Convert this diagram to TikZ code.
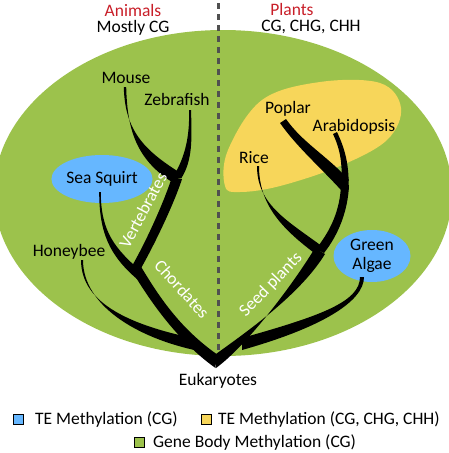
\documentclass[tikz,border=0pt]{standalone}
\usepackage{fontspec}
\setmainfont{Carlito}
\usetikzlibrary{calc,shapes.geometric}
\definecolor{gbm}{RGB}{156,194,76}
\definecolor{teblue}{RGB}{102,183,255}
\definecolor{teyellow}{RGB}{247,214,90}
\definecolor{anired}{RGB}{200,30,40}
\definecolor{dashgray}{RGB}{80,80,80}
% tapered branch: tip, control1, control2, base, half-width vector at tip, at base
\newcommand\brch[6]{\fill[black] ($#1+(#5)$) .. controls ($#2+(#5)$) and ($#3+(#6)$) .. ($#4+(#6)$) -- ($#4-(#6)$) .. controls ($#3-(#6)$) and ($#2-(#5)$) .. ($#1-(#5)$) -- cycle;}
\begin{document}
\begin{tikzpicture}[x=1pt,y=-1pt,
  font=\fontsize{17.5}{20}\selectfont,
  lbl/.style={anchor=base, inner sep=0pt},
  wlbl/.style={text=white, inner sep=0pt},
  keybox/.style={draw=black, line width=0.8pt, minimum size=10pt, inner sep=0pt},
  teell/.style={ellipse, fill=teblue, inner sep=0pt, align=center}]
\useasboundingbox (0,0) rectangle (448,453);
% gene body methylation region
\fill[gbm] (223,193) ellipse [x radius=229, y radius=163];
% plant TE methylation region
\fill[teyellow] plot[smooth cycle, tension=0.6] coordinates {(225,186) (228,150) (262,100) (320,82) (380,83) (401,108) (387,140) (340,166) (280,186) (240,192)};
% divider
\draw[dashgray, line width=3pt, dash pattern=on 6pt off 5pt] (218,3) -- (218,352);
% TE methylation (CG) nodes
\node[teell, minimum width=90pt, minimum height=48pt] (sq) at (102,179) {Sea Squirt};
\node[teell, minimum width=77pt, minimum height=52pt] (ga) at (372,256) {Green\\[-1pt]Algae};
% coordinates of the tree
\coordinate (mouse) at (125,87);
\coordinate (zebra) at (190,110);
\coordinate (vert) at (177,178);
\coordinate (chord) at (136,268);
\coordinate (hbee) at (82,260);
\coordinate (root) at (216,361);
\coordinate (seed) at (320,251);
\coordinate (algae) at (362,277);
\coordinate (rice) at (258,166);
\coordinate (angio) at (345,185);
\coordinate (poplar) at (283,121);
\coordinate (arab) at (335,133);
% animal branches
\brch{(mouse)}{(126,130)}{(140,155)}{(vert)}{1.2,0}{-3.5,5}
\brch{(zebra)}{(191,140)}{(188,160)}{(vert)}{1,0}{4.5,0}
\brch{(vert)}{(170,200)}{(152,240)}{(chord)}{5,1}{4,2}
\brch{(100,192)}{(100,232)}{(112,252)}{(140,276)}{0.8,0}{3,-3}
\brch{(chord)}{(154,298)}{(178,334)}{(root)}{4,-3}{0.5,-7}
\brch{(hbee)}{(82,305)}{(135,332)}{(198,345)}{1,0}{1,6}
% plant branches
\brch{(root)}{(245,340)}{(295,292)}{(seed)}{0,-7}{5,3}
\brch{(algae)}{(362,302)}{(320,322)}{(242,344)}{2,0}{0,6}
\brch{(rice)}{(258,205)}{(285,225)}{(seed)}{1,0}{-3,4}
\brch{(angio)}{(344,210)}{(335,232)}{(seed)}{4,0}{4,2}
\brch{(poplar)}{(300,145)}{(322,160)}{(angio)}{-3,2}{-4,5}
\brch{(arab)}{(343,150)}{(346,165)}{(345,190)}{2,-1}{3.5,0}
% headings
\node[lbl, text=anired] (ani) at (133,16) {Animals};
\node[lbl] (anim) at (133,32) {Mostly CG};
\node[lbl, text=anired] (pla) at (292,15) {Plants};
\node[lbl] (plam) at (311,31) {CG, CHG, CHH};
% species labels
\node[lbl] (lmouse) at (126,83) {Mouse};
\node[lbl] (lzebra) at (177,105) {Zebrafish};
\node[lbl] (lhbee) at (69,256) {Honeybee};
\node[lbl] (lpoplar) at (288,113) {Poplar};
\node[lbl] (larab) at (354,131) {Arabidopsis};
\node[lbl] (lrice) at (254,163) {Rice};
\node[lbl] (leuk) at (218,385) {Eukaryotes};
% clade labels
\node[wlbl, rotate=62] (lvert) at (143,210) {Vertebrates};
\node[wlbl, rotate=-48] (lchord) at (182,289) {Chordates};
\node[wlbl, rotate=46] (lseed) at (271,285) {Seed plants};
% legend
\node[keybox, fill=teblue] (k1) at (18,419) {};
\node[lbl, anchor=base west] (t1) at (35,424) {TE Methylation (CG)};
\node[keybox, fill=teyellow] (k2) at (206,419) {};
\node[lbl, anchor=base west] (t2) at (218,424) {TE Methylation (CG, CHG, CHH)};
\node[keybox, fill=gbm] (k3) at (139,442) {};
\node[lbl, anchor=base west] (t3) at (153,447) {Gene Body Methylation (CG)};
\end{tikzpicture}
\end{document}
